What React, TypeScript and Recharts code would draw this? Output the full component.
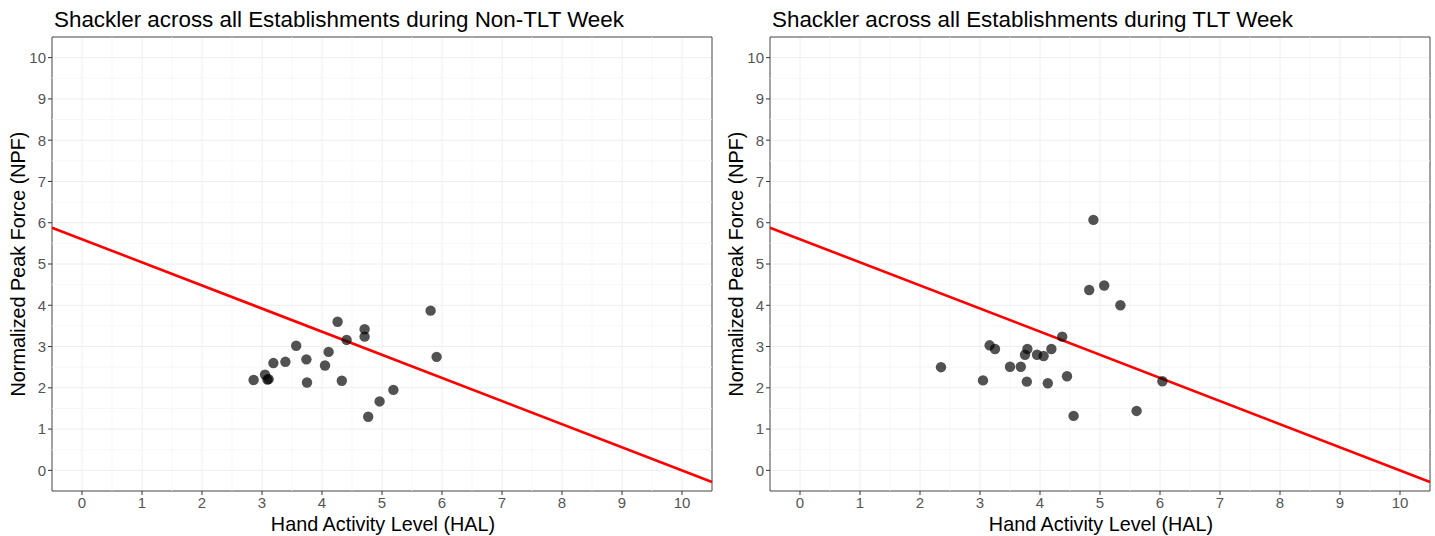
import React from "react";
import { ScatterChart, Scatter, XAxis, YAxis, CartesianGrid, ReferenceLine, ReferenceArea } from "recharts";

// tick values for both axes
const halTicks = [0, 1, 2, 3, 4, 5, 6, 7, 8, 9, 10];
const npfTicks = [0, 1, 2, 3, 4, 5, 6, 7, 8, 9, 10];
const minorTicks = [0.5, 1.5, 2.5, 3.5, 4.5, 5.5, 6.5, 7.5, 8.5, 9.5];

// Non-TLT week observations
const nonTltHal = [2.86, 3.05, 3.11, 3.09, 3.19, 3.39, 3.57, 3.74, 3.75, 4.05, 4.11, 4.26, 4.33, 4.41, 4.71, 4.71, 4.77, 4.96, 5.19, 5.81, 5.91];
const nonTltNpf = [2.19, 2.32, 2.21, 2.2, 2.6, 2.63, 3.02, 2.69, 2.13, 2.54, 2.87, 3.6, 2.17, 3.16, 3.42, 3.24, 1.3, 1.67, 1.95, 3.87, 2.75];

// TLT week observations
const tltHal = [2.35, 3.05, 3.16, 3.25, 3.5, 3.68, 3.75, 3.79, 3.78, 3.95, 4.06, 4.13, 4.19, 4.37, 4.45, 4.56, 4.89, 4.82, 5.07, 5.34, 6.04, 5.61];
const tltNpf = [2.5, 2.18, 3.03, 2.94, 2.51, 2.51, 2.8, 2.94, 2.15, 2.8, 2.77, 2.11, 2.94, 3.24, 2.28, 1.32, 6.07, 4.37, 4.48, 4.0, 2.16, 1.44];

// ACGIH TLV line end points
const tlvHal = [-0.5, 10.5];
const tlvNpf = [5.88, -0.28];

const FONT = "'Liberation Sans', Arial, Helvetica, sans-serif";

const Dot = (props: any) => (
  <circle cx={props.cx} cy={props.cy} r={5.2} fill="#000" fillOpacity={0.68} />
);

type PanelProps = { title: string; hal: number[]; npf: number[]; left: number };

const Panel = ({ title, hal, npf, left }: PanelProps) => {
  const data = hal.map((h, i) => ({ hal: h, npf: npf[i] }));
  return (
    <div style={{ position: "absolute", left, top: 0, width: 720, height: 536 }}>
      <ScatterChart width={720} height={536} margin={{ top: 37, right: 8, bottom: 0, left: 22 }}>
        <CartesianGrid stroke="#eeeeee" strokeWidth={1} />
        {minorTicks.map((t) => (
          <ReferenceLine key={"vx" + t} x={t} stroke="#f5f5f5" strokeWidth={0.8} />
        ))}
        {minorTicks.map((t) => (
          <ReferenceLine key={"hy" + t} y={t} stroke="#f5f5f5" strokeWidth={0.8} />
        ))}
        <XAxis
          type="number"
          dataKey="hal"
          domain={[-0.5, 10.5]}
          ticks={halTicks}
          allowDataOverflow
          height={45}
          tickSize={4}
          tickMargin={2}
          axisLine={false}
          tickLine={{ stroke: "#333" }}
          tick={{ fill: "#555", fontSize: 15, fontFamily: FONT }}
        />
        <YAxis
          type="number"
          dataKey="npf"
          domain={[-0.5, 10.5]}
          ticks={npfTicks}
          allowDataOverflow
          width={30}
          tickSize={4}
          tickMargin={2}
          axisLine={false}
          tickLine={{ stroke: "#333" }}
          tick={{ fill: "#555", fontSize: 15, fontFamily: FONT }}
        />
        <Scatter data={data} shape={Dot} isAnimationActive={false} />
        <ReferenceLine
          segment={[
            { x: tlvHal[0], y: tlvNpf[0] },
            { x: tlvHal[1], y: tlvNpf[1] },
          ]}
          stroke="#ff0000"
          strokeWidth={2.6}
        />
        <ReferenceArea x1={-0.5} x2={10.5} y1={-0.5} y2={10.5} fill="none" fillOpacity={0} stroke="#4d4d4d" strokeWidth={1} />
      </ScatterChart>
      <svg width={720} height={536} style={{ position: "absolute", left: 0, top: 0, pointerEvents: "none" }}>
        <text x={54} y={27} fontFamily={FONT} fontSize={22.4} fill="#000">
          {title}
        </text>
        <text x={383} y={531} textAnchor="middle" fontFamily={FONT} fontSize={19.8} fill="#000">
          Hand Activity Level (HAL)
        </text>
        <text
          x={25}
          y={264}
          textAnchor="middle"
          transform="rotate(-90 25 264)"
          fontFamily={FONT}
          fontSize={19.8}
          fill="#000"
        >
          Normalized Peak Force (NPF)
        </text>
      </svg>
    </div>
  );
};

export default function App() {
  return (
    <div style={{ position: "absolute", left: 0, top: 0, width: 1435, height: 536, background: "#fff" }}>
      <Panel title="Shackler across all Establishments during Non-TLT Week" hal={nonTltHal} npf={nonTltNpf} left={0} />
      <Panel title="Shackler across all Establishments during TLT Week" hal={tltHal} npf={tltNpf} left={718} />
    </div>
  );
}
